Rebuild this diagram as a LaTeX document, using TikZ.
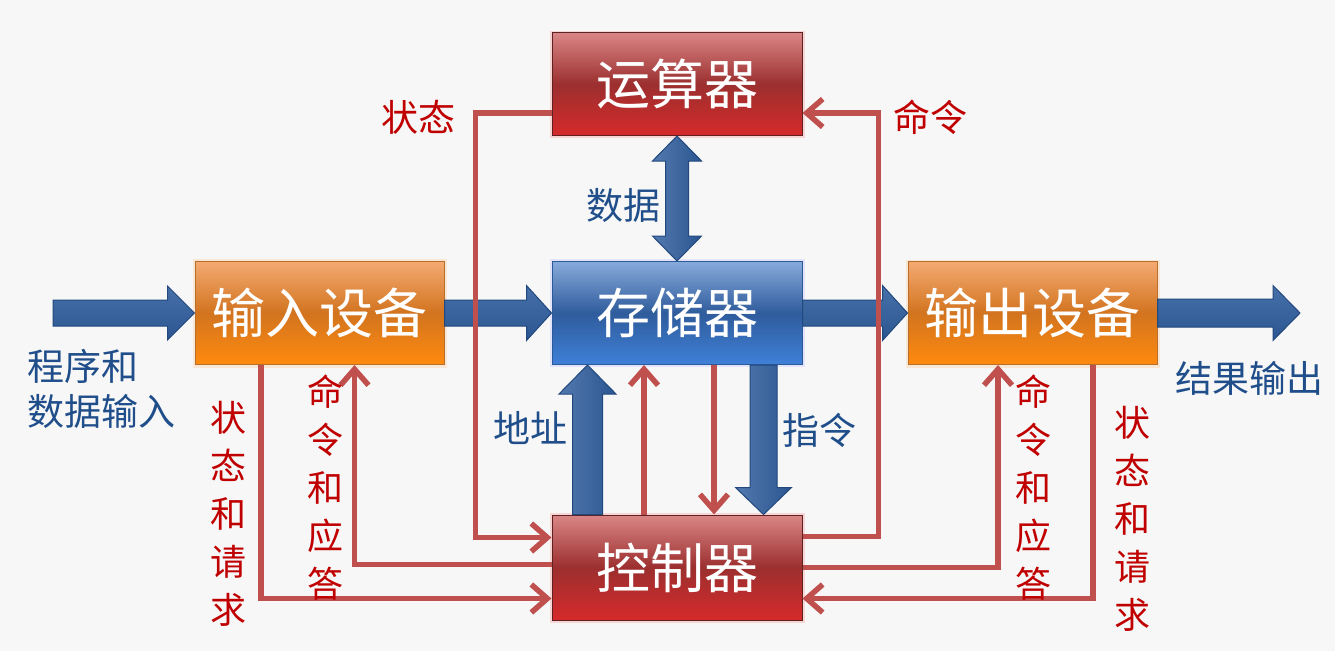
\documentclass[tikz,border=0pt]{standalone}
\usepackage{fontspec}
\setmainfont{Noto Sans CJK SC}
\usetikzlibrary{calc,arrows.meta}

\definecolor{bgc}{HTML}{F7F7F7}
\definecolor{ctlred}{HTML}{C0504D}
\definecolor{lblred}{HTML}{C00000}
\definecolor{lblblue}{HTML}{1F4E8A}
\definecolor{fatblue}{HTML}{2E5D9D}
\definecolor{fatedge}{HTML}{22487E}
\definecolor{redtop}{HTML}{DA8686}
\definecolor{redmid}{HTML}{9C2F2F}
\definecolor{redbot}{HTML}{D62A2A}
\definecolor{redline}{HTML}{5E2222}
\definecolor{ortop}{HTML}{F4AA72}
\definecolor{ormid}{HTML}{D2741F}
\definecolor{orbot}{HTML}{FF8A0E}
\definecolor{orline}{HTML}{B86E2C}
\definecolor{bltop}{HTML}{88AADB}
\definecolor{blmid}{HTML}{2F5C9C}
\definecolor{blbot}{HTML}{3F80D8}
\definecolor{blline}{HTML}{2A5A9A}

% fat block arrow: style, from, to, half shaft, half head, head length
\newcommand\fatarrow[6]{%
  \coordinate (fa-h) at ($(#3)!#6!(#2)$);
  \path[#1] ($(#2)!#4!90:(#3)$) -- ($(fa-h)!#4!-90:(#2)$) -- ($(fa-h)!#5!-90:(#2)$)
    -- (#3) -- ($(fa-h)!#5!90:(#2)$) -- ($(fa-h)!#4!90:(#2)$) -- ($(#2)!#4!-90:(#3)$) -- cycle;}
% fat block arrow with heads at both ends
\newcommand\fatdarrow[6]{%
  \coordinate (fa-a) at ($(#2)!#6!(#3)$);
  \coordinate (fa-b) at ($(#3)!#6!(#2)$);
  \path[#1] (#2) -- ($(fa-a)!#5!90:(#3)$) -- ($(fa-a)!#4!90:(#3)$) -- ($(fa-b)!#4!-90:(#2)$)
    -- ($(fa-b)!#5!-90:(#2)$) -- (#3) -- ($(fa-b)!#5!90:(#2)$) -- ($(fa-b)!#4!90:(#2)$)
    -- ($(fa-a)!#4!-90:(#3)$) -- ($(fa-a)!#5!-90:(#3)$) -- cycle;}

\tikzset{
  unit/.style={minimum width=250pt, minimum height=103pt, inner sep=0pt,
    text=white, font=\fontsize{54}{60}\selectfont, line width=1pt},
  redunit/.style={unit, draw=redline, top color=redtop, bottom color=redbot, middle color=redmid},
  orangeunit/.style={unit, draw=orline, top color=ortop, bottom color=orbot, middle color=ormid},
  blueunit/.style={unit, draw=blline, top color=bltop, bottom color=blbot, middle color=blmid},
  glow/.style={draw=#1, line width=5pt, opacity=0.35},
  fathor/.style={draw=fatedge, line width=1pt, line join=miter,
    top color=fatblue!88!white, bottom color=fatblue!92!black},
  fatver/.style={draw=fatedge, line width=1pt, line join=miter,
    left color=fatblue!82!white, right color=fatblue!92!black},
  ctl/.style={draw=ctlred, line width=5.5pt, line join=miter},
  ctlarr/.style={ctl, -{Straight Barb[length=16pt,width=28pt]}},
  redlbl/.style={text=lblred, font=\fontsize{37}{48}\selectfont, inner sep=0pt},
  bluelbl/.style={text=lblblue, font=\fontsize{37}{45}\selectfont, inner sep=0pt},
  vlbl/.style={redlbl, align=center, font=\fontsize{36}{48}\selectfont}
}

\begin{document}
\begin{tikzpicture}[x=1pt, y=-1pt]
  \fill[bgc] (0,0) rectangle (1335,651);
  \useasboundingbox (0,0) rectangle (1335,651);

  % soft halos behind the units
  \draw[glow=red!40] (552,33) rectangle (802,135);
  \draw[glow=red!40] (552,515) rectangle (802,620);
  \draw[glow=orange!40] (195,261) rectangle (444,365);
  \draw[glow=orange!40] (908,262) rectangle (1157,365);
  \draw[glow=blue!25] (552,261) rectangle (802,364);

  % units
  \node[redunit]    (alu)  at (677,84)    {运算器};
  \node[blueunit]   (mem)  at (677,313)   {存储器};
  \node[redunit, minimum height=105pt] (ctrl) at (677,567.5) {控制器};
  \node[orangeunit, minimum width=249pt] (in)  at (319.5,313) {输入设备};
  \node[orangeunit, minimum width=249pt] (out) at (1032.5,313) {输出设备};

  % free ends of the outer data arrows
  \coordinate (src) at (53,313);
  \coordinate (dst) at (1300,313);

  % data path (block arrows)
  \fatarrow{fathor}{src}{in.west}{13pt}{27pt}{27pt}
  \fatarrow{fathor}{in.east}{mem.west}{13pt}{27.5pt}{25pt}
  \fatarrow{fathor}{mem.east}{out.west}{13pt}{27.5pt}{25pt}
  \fatarrow{fathor}{out.east}{dst}{14pt}{27.5pt}{27pt}
  \fatdarrow{fatver}{alu.south}{mem.north}{11.5pt}{24.5pt}{25pt}

  \coordinate (addr-a) at ($(ctrl.north west)+(36,0)$);
  \coordinate (addr-b) at ($(mem.south west)+(36,0)$);
  \fatarrow{fatver}{addr-a}{addr-b}{15pt}{28.5pt}{29pt}
  \coordinate (ins-a) at ($(mem.south west)+(212,0)$);
  \coordinate (ins-b) at ($(ctrl.north west)+(212,0)$);
  \fatarrow{fatver}{ins-a}{ins-b}{13.5pt}{28pt}{27pt}

  % control and status lines
  \draw[ctlarr] ($(ctrl.north)+(-33,0)$) -- ($(mem.south)+(-33,0)$);
  \draw[ctlarr] ($(mem.south)+(37,0)$) -- ($(ctrl.north)+(37,0)$);
  \draw[ctlarr] ($(alu.west)+(0,29)$) -| ($(ctrl.west)+(-76,-30)$) -- ($(ctrl.west)+(0,-30)$);
  \draw[ctlarr] ($(ctrl.east)+(0,-31)$) -| ($(alu.east)+(76,29)$) -- ($(alu.east)+(0,29)$);
  \draw[ctlarr] ($(ctrl.west)+(0,-3)$) -| ($(in.south)+(35,0)$);
  \draw[ctlarr] ($(in.south)+(-58.5,0)$) |- ($(ctrl.west)+(0,31)$);
  \draw[ctlarr] ($(ctrl.east)+(0,0)$) -| ($(out.south)+(-34.5,0)$);
  \draw[ctlarr] ($(out.south)+(60.5,0)$) |- ($(ctrl.east)+(0,31)$);

  % labels
  \node[redlbl]  (l-state) at (418,117) {状态};
  \node[redlbl]  (l-cmd)   at (930,117) {命令};
  \node[bluelbl] (l-data)  at (623,205) {数据};
  \node[bluelbl] (l-addr)  at (530,428) {地址};
  \node[bluelbl] (l-ins)   at (819,430) {指令};
  \node[bluelbl, anchor=west, align=left] (l-src) at (27,389) {程序和\\数据输入};
  \node[bluelbl] (l-dst)   at (1249,378) {结果输出};
  \node[vlbl] (l-sr1) at (228,514) {状\\态\\和\\请\\求};
  \node[vlbl] (l-ca1) at (325,488) {命\\令\\和\\应\\答};
  \node[vlbl] (l-ca2) at (1033,488) {命\\令\\和\\应\\答};
  \node[vlbl] (l-sr2) at (1132,519) {状\\态\\和\\请\\求};
\end{tikzpicture}
\end{document}
